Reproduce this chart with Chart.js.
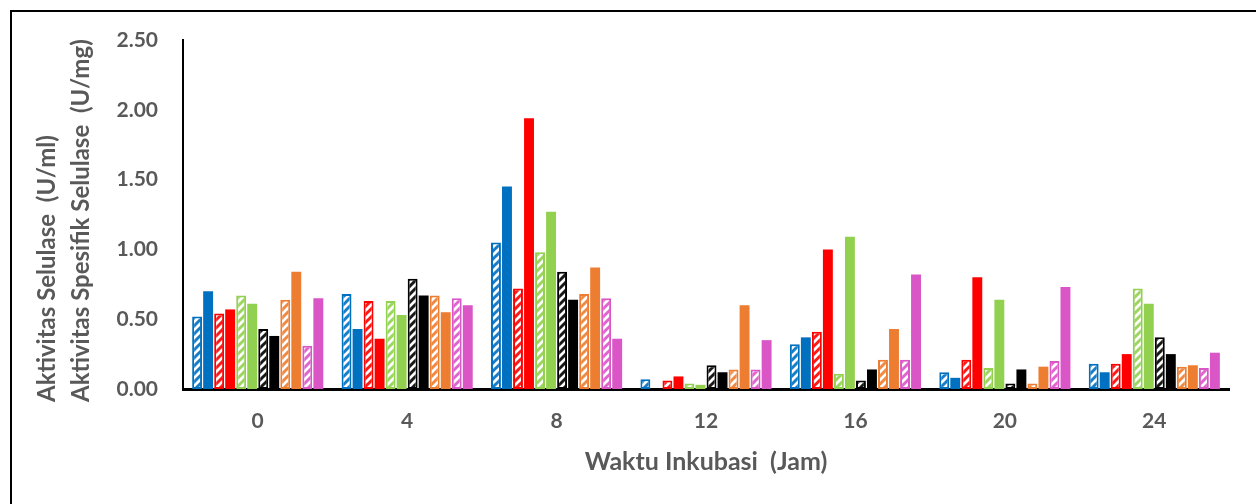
<!DOCTYPE html>
<html>
<head>
<meta charset="utf-8">
<script src="https://cdn.jsdelivr.net/npm/chart.js@4.4.1/dist/chart.umd.min.js"></script>
<style>
  html, body { margin: 0; padding: 0; background: #ffffff; }
  #wrap { width: 1256px; height: 504px; }
</style>
</head>
<body>
<div id="wrap"><canvas id="c" width="1256" height="504"></canvas></div>
<script>
// ---- data ----
const categories = ['0', '4', '8', '12', '16', '20', '24'];
const yTickValues = [0, 0.5, 1.0, 1.5, 2.0, 2.5];
const xAxisTitle = 'Waktu Inkubasi  (Jam)';
const yAxisTitleLine1 = 'Aktivitas Selulase  (U/ml)';
const yAxisTitleLine2 = 'Aktivitas Spesifik Selulase  (U/mg)';

const blueHatch    = [0.52, 0.68, 1.05, 0.07, 0.32, 0.12, 0.18];
const blueSolid    = [0.70, 0.43, 1.45, 0.00, 0.37, 0.08, 0.12];
const redHatch     = [0.54, 0.63, 0.72, 0.06, 0.41, 0.21, 0.18];
const redSolid     = [0.57, 0.36, 1.94, 0.09, 1.00, 0.80, 0.25];
const greenHatch   = [0.67, 0.63, 0.98, 0.04, 0.11, 0.15, 0.72];
const greenSolid   = [0.61, 0.53, 1.27, 0.03, 1.09, 0.64, 0.61];
const blackHatch   = [0.43, 0.79, 0.84, 0.17, 0.06, 0.04, 0.37];
const blackSolid   = [0.38, 0.67, 0.64, 0.12, 0.14, 0.14, 0.25];
const orangeHatch  = [0.64, 0.67, 0.68, 0.14, 0.21, 0.04, 0.16];
const orangeSolid  = [0.84, 0.55, 0.87, 0.60, 0.43, 0.16, 0.17];
const magentaHatch = [0.31, 0.65, 0.65, 0.14, 0.21, 0.20, 0.15];
const magentaSolid = [0.65, 0.60, 0.36, 0.35, 0.82, 0.73, 0.26];

// ---- styles ----
const BLUE = '#0070C0', RED = '#FF0000', GREEN = '#92D050', BLACK = '#000000',
      ORANGE = '#ED7D31', MAGENTA = '#DA55C6';
const TEXT = '#595959';
const FONT = 'Lato, "Open Sans", sans-serif';

function hatch(color) {
  const s = 8;
  const cv = document.createElement('canvas');
  cv.width = s; cv.height = s;
  const g = cv.getContext('2d');
  g.fillStyle = '#ffffff';
  g.fillRect(0, 0, s, s);
  g.strokeStyle = color;
  g.globalAlpha = 0.9;
  g.lineWidth = 3;
  g.beginPath();
  g.moveTo(-2, s + 2); g.lineTo(s + 2, -2);
  g.moveTo(-2 - s, s + 2); g.lineTo(2, -2);
  g.moveTo(s - 2, s + 2); g.lineTo(2 * s + 2, -2);
  g.stroke();
  return g.createPattern(cv, 'repeat');
}

function hatchSet(label, data, color) {
  return { label, data, backgroundColor: hatch(color), borderColor: color, borderWidth: 2, borderSkipped: false };
}
function solidSet(label, data, color) {
  return { label, data, backgroundColor: color, borderWidth: 0 };
}

const framePlugin = {
  id: 'frame',
  beforeDraw(chart) {
    const ctx = chart.ctx;
    ctx.save();
    ctx.fillStyle = '#ffffff';
    ctx.fillRect(0, 0, chart.width, chart.height);
    ctx.strokeStyle = '#000000';
    ctx.lineWidth = 2;
    ctx.strokeRect(11, 11, chart.width + 20, chart.height + 20);
    ctx.restore();
  }
};

const titlePlugin = {
  id: 'titles',
  afterDraw(chart) {
    const ctx = chart.ctx;
    const area = chart.chartArea;
    ctx.save();
    ctx.fillStyle = TEXT;
    ctx.textBaseline = 'middle';
    // x title
    ctx.font = 'bold 25px ' + FONT;
    ctx.textAlign = 'center';
    ctx.fillText(xAxisTitle, (area.left + area.right) / 2, 462);
    // y title (two left-aligned rotated lines)
    ctx.font = 'bold 24px ' + FONT;
    ctx.textAlign = 'left';
    [[47, yAxisTitleLine1], [81, yAxisTitleLine2]].forEach(([x, t]) => {
      ctx.save();
      ctx.translate(x, 402);
      ctx.rotate(-Math.PI / 2);
      ctx.fillText(t, 0, 0);
      ctx.restore();
    });
    ctx.restore();
  }
};

new Chart(document.getElementById('c'), {
  type: 'bar',
  data: {
    labels: categories,
    datasets: [
      hatchSet('Biru (arsir)', blueHatch, BLUE),
      solidSet('Biru', blueSolid, BLUE),
      hatchSet('Merah (arsir)', redHatch, RED),
      solidSet('Merah', redSolid, RED),
      hatchSet('Hijau (arsir)', greenHatch, GREEN),
      solidSet('Hijau', greenSolid, GREEN),
      hatchSet('Hitam (arsir)', blackHatch, BLACK),
      solidSet('Hitam', blackSolid, BLACK),
      hatchSet('Oranye (arsir)', orangeHatch, ORANGE),
      solidSet('Oranye', orangeSolid, ORANGE),
      hatchSet('Magenta (arsir)', magentaHatch, MAGENTA),
      solidSet('Magenta', magentaSolid, MAGENTA)
    ]
  },
  options: {
    responsive: false,
    animation: false,
    devicePixelRatio: 1,
    layout: { padding: { left: 0, top: 40, right: 27, bottom: 0 } },
    datasets: { bar: { categoryPercentage: 0.885, barPercentage: 0.9 } },
    plugins: { legend: { display: false }, tooltip: { enabled: false } },
    scales: {
      x: {
        grid: { display: false, drawTicks: false },
        border: { display: true, color: '#000000', width: 3 },
        ticks: { color: TEXT, font: { family: FONT, size: 21, weight: 'bold' }, padding: 20 },
        afterFit(scale) { scale.height = 115; }
      },
      y: {
        min: 0, max: 2.5,
        grid: { display: false, drawTicks: false },
        border: { display: true, color: '#000000', width: 2 },
        afterBuildTicks(scale) { scale.ticks = yTickValues.map(v => ({ value: v })); },
        ticks: {
          color: TEXT, font: { family: FONT, size: 21, weight: 'bold' }, padding: 25,
          callback: v => Number(v).toFixed(2)
        },
        afterFit(scale) { scale.width = 183; }
      }
    }
  },
  plugins: [framePlugin, titlePlugin]
});
</script>
</body>
</html>
